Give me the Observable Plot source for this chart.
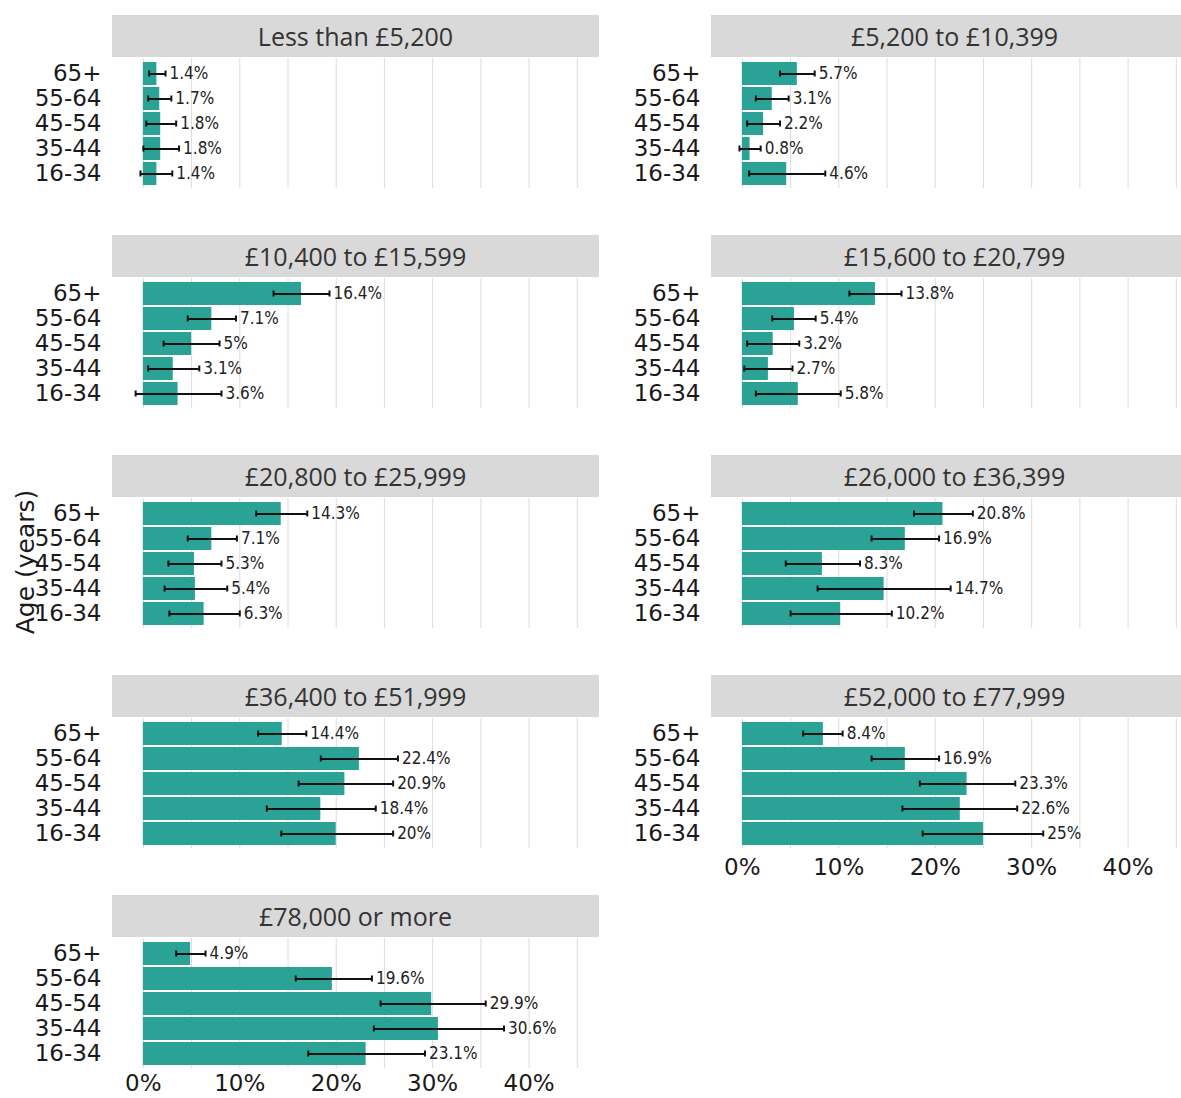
<!DOCTYPE html>
<html>
<head>
<meta charset="utf-8">
<script src="https://cdn.jsdelivr.net/npm/d3@7"></script>
<script src="https://cdn.jsdelivr.net/npm/@observablehq/plot@0.6"></script>
<style>
  html, body { margin: 0; padding: 0; background: #fff; overflow: hidden; }
  #chart { position: relative; width: 1181px; height: 1098px; overflow: hidden; }
  .strip { position: absolute; height: 42px; background: #d9d9d9; color: #333;
           font-family: "Open Sans", sans-serif; font-size: 25px; display: flex;
           align-items: center; justify-content: center; }
  .ytitle { position: absolute; font-family: "DejaVu Sans", sans-serif; font-size: 25px; color: #1a1a1a;
            transform: translate(-50%, -50%) rotate(-90deg); white-space: nowrap; }
</style>
</head>
<body>
<div id="chart"></div>
<script>
// Age groups (top to bottom)
const ages = ["65+", "55-64", "45-54", "35-44", "16-34"];
// Income bands (facets)
const bands = [
  "Less than £5,200", "£5,200 to £10,399",
  "£10,400 to £15,599", "£15,600 to £20,799",
  "£20,800 to £25,999", "£26,000 to £36,399",
  "£36,400 to £51,999", "£52,000 to £77,999",
  "£78,000 or more"
];
// Percentages per band, in the order of ages
const pct = [
  [1.4, 1.7, 1.8, 1.8, 1.4],
  [5.7, 3.1, 2.2, 0.8, 4.6],
  [16.4, 7.1, 5, 3.1, 3.6],
  [13.8, 5.4, 3.2, 2.7, 5.8],
  [14.3, 7.1, 5.3, 5.4, 6.3],
  [20.8, 16.9, 8.3, 14.7, 10.2],
  [14.4, 22.4, 20.9, 18.4, 20],
  [8.4, 16.9, 23.3, 22.6, 25],
  [4.9, 19.6, 29.9, 30.6, 23.1]
];
// Lower confidence bounds
const ciLow = [
  [0.6, 0.5, 0.3, 0.0, -0.3],
  [3.9, 1.4, 0.5, -0.3, 0.7],
  [13.5, 4.6, 2.1, 0.5, -0.8],
  [11.1, 3.1, 0.5, 0.2, 1.4],
  [11.7, 4.6, 2.6, 2.2, 2.7],
  [17.8, 13.4, 4.5, 7.8, 5.0],
  [11.9, 18.4, 16.1, 12.8, 14.3],
  [6.3, 13.4, 18.4, 16.6, 18.7],
  [3.4, 15.8, 24.6, 23.9, 17.1]
];
// Upper confidence bounds
const ciHigh = [
  [2.3, 2.9, 3.4, 3.7, 3.0],
  [7.5, 4.8, 3.9, 1.9, 8.6],
  [19.3, 9.6, 7.9, 5.8, 8.1],
  [16.5, 7.6, 5.9, 5.2, 10.2],
  [17.0, 9.7, 8.1, 8.7, 10.0],
  [23.9, 20.4, 12.2, 21.6, 15.5],
  [16.9, 26.4, 25.9, 24.1, 25.9],
  [10.4, 20.4, 28.3, 28.5, 31.2],
  [6.45, 23.7, 35.5, 37.4, 29.2]
];
const xTicks = [0, 10, 20, 30, 40];
const gridTicks = [0, 5, 10, 15, 20, 25, 30, 35, 40, 45];

const chart = document.getElementById("chart");
const teal = "#2aa295";

bands.forEach((band, i) => {
  const col = i % 2, row = Math.floor(i / 2);
  const hasX = (i === 7 || i === 8);
  const lastRow = (i === 8);
  const data = ages.map((a, j) => ({age: a, value: pct[i][j], lo: ciLow[i][j], hi: ciHigh[i][j]}));

  const panelLeft = col === 0 ? 112 : 711;
  const strip = document.createElement("div");
  strip.className = "strip";
  strip.style.left = panelLeft + "px";
  strip.style.width = "487px";
  strip.style.top = (15 + 220 * row) + "px";
  strip.textContent = band;
  chart.appendChild(strip);

  const marks = [
    Plot.gridX(gridTicks, {stroke: "#dcdcdc", strokeOpacity: 1, strokeWidth: 1}),
    Plot.barX(data, {x: "value", y: "age", fill: teal}),
    Plot.ruleY(data, {y: "age", x1: "lo", x2: "hi", stroke: "#111", strokeWidth: 2}),
    Plot.tickX(data, {x: "lo", y: "age", stroke: "#111", strokeWidth: 2, insetTop: 8.5, insetBottom: 8.5}),
    Plot.tickX(data, {x: "hi", y: "age", stroke: "#111", strokeWidth: 2, insetTop: 8.5, insetBottom: 8.5}),
    Plot.text(data, {x: "hi", y: "age", text: d => d.value + "%", textAnchor: "start", dx: 4,
      fontSize: 17, fontFamily: "'Liberation Sans Narrow', 'DejaVu Sans Condensed', 'Roboto Condensed', sans-serif",
      fill: "#222"}),
    Plot.axisY({tickSize: 0, tickPadding: 11, label: null, fontFamily: "DejaVu Sans", fontSize: 23})
  ];
  if (hasX) marks.push(Plot.axisX(xTicks, {tickSize: 0, tickPadding: lastRow ? 6 : 10, tickFormat: d => d + "%",
    label: null, fontFamily: "DejaVu Sans", fontSize: 23}));

  const xScale = {domain: [-3.2, 47.3]};
  if (!hasX) xScale.axis = null;

  const mb = hasX ? (lastRow ? 32 : 45) : 0;
  const svg = Plot.plot({
    width: col === 0 ? 600 : 598,
    height: 130 + mb,
    marginLeft: col === 0 ? 112 : 111,
    marginRight: col === 0 ? 1 : 0,
    marginTop: 0,
    marginBottom: mb,
    x: xScale,
    y: {domain: ages, paddingInner: 0.1, paddingOuter: 0.15},
    style: {fontFamily: "DejaVu Sans, sans-serif", fontSize: "23px", color: "#1a1a1a", background: "transparent", overflow: "visible"},
    marks
  });
  svg.style.position = "absolute";
  svg.style.left = (col === 0 ? 0 : 600) + "px";
  svg.style.top = (58 + 220 * row) + "px";
  chart.appendChild(svg);
});

const yt = document.createElement("div");
yt.className = "ytitle";
yt.textContent = "Age (years)";
yt.style.left = "25px";
yt.style.top = "562px";
chart.appendChild(yt);
</script>
</body>
</html>
